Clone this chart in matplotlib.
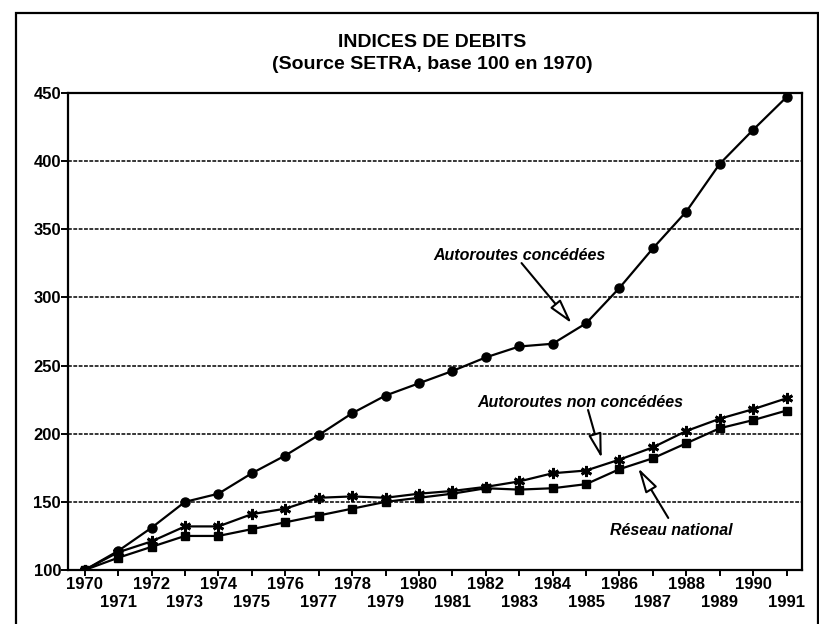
import matplotlib.pyplot as plt
from matplotlib.patches import Rectangle
import numpy as np

plt.rcParams['font.family'] = ['Liberation Sans Narrow', 'Liberation Sans', 'DejaVu Sans']

annees = np.arange(1970, 1992)
annees_paires = annees[annees % 2 == 0]
annees_impaires = annees[annees % 2 == 1]

# indices (base 100 en 1970)
concedees = [100, 114, 131, 150, 156, 171, 184, 199, 215, 228, 237,
             246, 256, 264, 266, 281, 307, 336, 363, 398, 423, 447]
non_concedees = [100, 113, 121, 132, 132, 141, 145, 153, 154, 153, 156,
                 158, 161, 165, 171, 173, 181, 190, 202, 211, 218, 226]
reseau_national = [100, 109, 117, 125, 125, 130, 135, 140, 145, 150, 153,
                   156, 160, 159, 160, 163, 174, 182, 193, 204, 210, 217]

fig = plt.figure(figsize=(8.2, 6.24), dpi=100)
ax = fig.add_axes([0.0829, 0.0865, 0.8951, 0.7645])

# cadre autour de la figure
fig.patches.append(Rectangle((0.0195, -0.02), 0.978, 0.999, transform=fig.transFigure,
                             fill=False, edgecolor='black', linewidth=1.6))

ax.plot(annees, concedees, color='black', lw=1.6, marker='o', ms=6.5)
ax.plot(annees, non_concedees, color='black', lw=1.6, marker=(6, 2, 0), ms=8, mew=2)
ax.plot(annees, reseau_national, color='black', lw=1.6, marker='s', ms=6)

ax.set_xlim(1969.5, 1991.46)
ax.set_ylim(100, 450)
ax.set_yticks(np.arange(100, 451, 50))
ax.set_xticks(annees_paires)
ax.set_xticklabels([str(a) for a in annees_paires])
ax.set_xticks(annees_impaires, minor=True)
ax.set_xticklabels([str(a) for a in annees_impaires], minor=True)

for y in range(150, 401, 50):
    ax.axhline(y, color='black', lw=1.1, ls=(0, (2.5, 1)), zorder=0)

for s in ax.spines.values():
    s.set_linewidth(1.6)
ax.tick_params(axis='x', which='both', direction='out', length=4, width=1.4, labelsize=12)
ax.tick_params(axis='x', which='major', pad=1)
ax.tick_params(axis='x', which='minor', pad=14)
ax.tick_params(axis='y', direction='out', length=5, width=1.4, labelsize=12, pad=0)
for lab in ax.get_xticklabels(which='both') + ax.get_yticklabels():
    lab.set_fontweight('bold')

fig.text(0.527, 0.932, 'INDICES DE DEBITS', ha='center', va='center', fontsize=14,
         fontweight='bold')
fig.text(0.527, 0.897, '(Source SETRA, base 100 en 1970)', ha='center', va='center',
         fontsize=14, fontweight='bold')

fleche = dict(arrowstyle='-|>,head_length=1.5,head_width=0.4', fc='white', ec='black',
              lw=1.5, shrinkA=0, shrinkB=0)
ax.text(1983.02, 330.6, 'Autoroutes concédées', style='italic', fontweight='bold',
        fontsize=11.5, ha='center', va='center')
ax.annotate('', xy=(1984.57, 281), xytext=(1983.07, 325.2), arrowprops=fleche)

ax.text(1984.82, 222.7, 'Autoroutes non concédées', style='italic', fontweight='bold',
        fontsize=11.5, ha='center', va='center')
ax.annotate('', xy=(1985.47, 182), xytext=(1985.06, 217.4), arrowprops=fleche)

ax.text(1987.56, 129.3, 'Réseau national', style='italic', fontweight='bold',
        fontsize=11.5, ha='center', va='center')
ax.annotate('', xy=(1986.56, 174.8), xytext=(1987.46, 138.2), arrowprops=fleche)

fig.savefig('out.png', dpi=100)
